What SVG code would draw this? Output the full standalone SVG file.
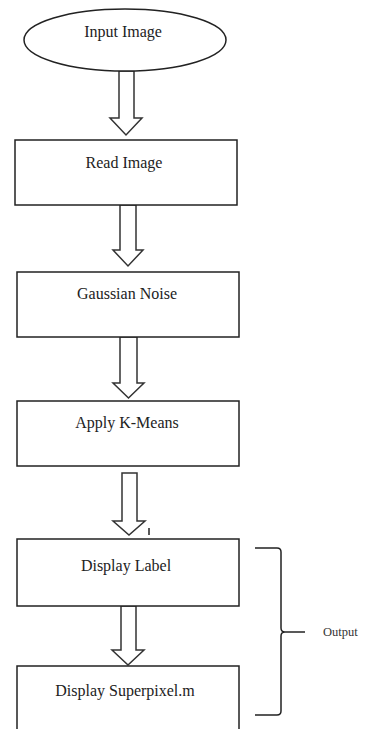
<svg xmlns="http://www.w3.org/2000/svg" width="367" height="729" viewBox="0 0 367 729">
<style>
.shape{fill:#fff;stroke:#222;stroke-width:1.5}
.lbl{font-family:"Liberation Serif","Times New Roman",serif;font-size:16px;fill:#222;text-anchor:middle}
.arrow{fill:#fff;stroke:#333;stroke-width:1.5;stroke-linejoin:miter}
.line{fill:none;stroke:#222;stroke-width:1.5}
</style>
<rect width="367" height="729" fill="#fff"/>
<g id="connectors">
<polygon class="arrow" points="119,71 134,71 134,118 142,118 126,135 110,118 119,118"/>
<polygon class="arrow" points="120,205 136,205 136,250 143,250 128,266 113,250 120,250"/>
<polygon class="arrow" points="120,337 137,337 137,383 144,383 128.5,398 113,383 120,383"/>
<polygon class="arrow" points="122,473 137,473 137,521 145,521 129,535 113,521 122,521"/>
<polygon class="arrow" points="121,606 136,606 136,650 144,650 128,665 112,650 121,650"/>
<line class="line" x1="149" y1="528" x2="149" y2="535"/>
</g>
<g id="input-image">
<ellipse class="shape" cx="125" cy="40" rx="101" ry="31"/>
<text class="lbl" x="123" y="37">Input Image</text>
</g>
<g id="read-image">
<rect class="shape" x="15" y="140" width="222" height="65"/>
<text class="lbl" x="124" y="168">Read Image</text>
</g>
<g id="gaussian-noise">
<rect class="shape" x="17" y="272" width="222" height="65"/>
<text class="lbl" x="127" y="299">Gaussian Noise</text>
</g>
<g id="apply-kmeans">
<rect class="shape" x="17" y="401" width="222" height="65"/>
<text class="lbl" x="127" y="428">Apply K-Means</text>
</g>
<g id="display-label">
<rect class="shape" x="17" y="539" width="222" height="67"/>
<text class="lbl" x="126" y="571">Display Label</text>
</g>
<g id="display-superpixel">
<rect class="shape" x="17" y="666" width="222" height="80"/>
<text class="lbl" x="125" y="696">Display Superpixel.m</text>
</g>
<g id="output-brace">
<path class="line" d="M255,548 L277,548 Q281,548 281,552 L281,628 Q281,632 285,632 Q281,632 281,636 L281,711 Q281,715 277,715 L255,715"/>
<line class="line" x1="285" y1="632" x2="305" y2="632"/>
<text x="323" y="636" font-family="Liberation Serif, Times New Roman, serif" font-size="12.5" fill="#333">Output</text>
</g>
</svg>
